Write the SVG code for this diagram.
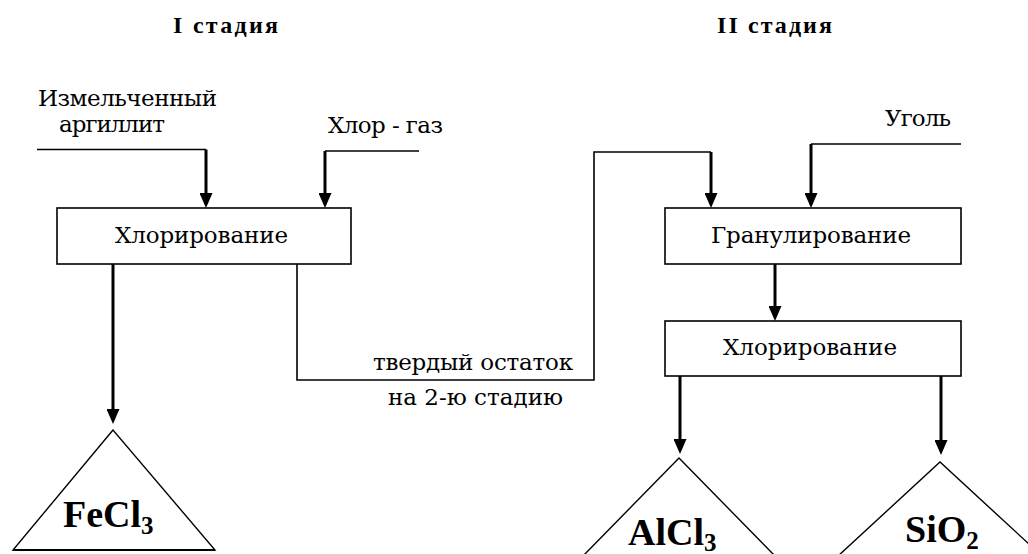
<svg xmlns="http://www.w3.org/2000/svg" width="1028" height="554" viewBox="0 0 1028 554">
<style>
  .bg { fill: #ffffff; }
  .box { fill: #ffffff; stroke: #000000; stroke-width: 1.6; }
  .tri { fill: none; stroke: #000000; stroke-width: 1.4; }
  .thin { fill: none; stroke: #000000; stroke-width: 1.6; }
  .thick { fill: none; stroke: #000000; stroke-width: 3; marker-end: url(#arrow); }
  .lbl { font-family: "DejaVu Serif", "Liberation Serif", serif; font-size: 23px; fill: #000000; }
  .title { font-family: "Liberation Serif", "Times New Roman", serif; font-size: 24px; font-weight: bold; fill: #000000; }
  .chem { font-family: "Liberation Serif", "Times New Roman", serif; font-size: 38px; font-weight: bold; fill: #000000; }
  .sub { font-size: 25px; }
</style>
<defs>
  <marker id="arrow" viewBox="0 0 15 13" refX="11" refY="6.5" markerWidth="15" markerHeight="13" markerUnits="userSpaceOnUse" orient="auto">
    <path d="M0,0 L15,6.5 L0,13 z" fill="#000000"/>
  </marker>
</defs>
<rect class="bg" x="0" y="0" width="1028" height="554"/>

<g id="titles">
  <text class="title" x="173" y="33" textLength="105" lengthAdjust="spacing">I стадия</text>
  <text class="title" x="717" y="33" textLength="115" lengthAdjust="spacing">II стадия</text>
</g>

<g id="connectors">
  <polyline class="thin" points="37,149.5 206,149.5"/>
  <line class="thick" x1="206" y1="149.5" x2="206" y2="204"/>
  <polyline class="thin" points="419,151 325,151"/>
  <line class="thick" x1="325" y1="151" x2="325" y2="204"/>
  <line class="thick" x1="113" y1="264" x2="113" y2="420"/>
  <polyline class="thin" points="297,264 297,380 594,380 594,152 711,152"/>
  <line class="thick" x1="711" y1="152" x2="711" y2="204"/>
  <polyline class="thin" points="961,144 811,144"/>
  <line class="thick" x1="811" y1="144" x2="811" y2="204"/>
  <line class="thick" x1="775" y1="264" x2="775" y2="317"/>
  <line class="thick" x1="680" y1="376" x2="680" y2="450"/>
  <line class="thick" x1="941" y1="376" x2="941" y2="451"/>
</g>

<g id="input-argillite">
  <text class="lbl" x="38" y="106" textLength="179" lengthAdjust="spacing">Измельченный</text>
  <text class="lbl" x="59" y="132" textLength="106" lengthAdjust="spacing">аргиллит</text>
</g>
<g id="input-chlorine">
  <text class="lbl" x="328" y="133" textLength="115" lengthAdjust="spacing">Хлор - газ</text>
</g>
<g id="input-coal">
  <text class="lbl" x="885" y="126" textLength="66" lengthAdjust="spacing">Уголь</text>
</g>

<g id="chlorination-1">
  <rect class="box" x="57" y="208" width="294" height="56"/>
  <text class="lbl" x="115" y="243" textLength="173" lengthAdjust="spacing">Хлорирование</text>
</g>

<g id="residue-label">
  <text class="lbl" x="373" y="370" textLength="200" lengthAdjust="spacing">твердый остаток</text>
  <text class="lbl" x="388" y="405" textLength="175" lengthAdjust="spacing">на 2-ю стадию</text>
</g>

<g id="granulation">
  <rect class="box" x="665" y="208" width="296" height="56"/>
  <text class="lbl" x="711" y="243" textLength="200" lengthAdjust="spacing">Гранулирование</text>
</g>

<g id="chlorination-2">
  <rect class="box" x="665" y="321" width="296" height="55"/>
  <text class="lbl" x="723" y="355" textLength="174" lengthAdjust="spacing">Хлорирование</text>
</g>

<g id="product-fecl3">
  <polygon class="tri" points="113,430 13,550 215,550"/>
  <line x1="13" y1="550" x2="215" y2="550" stroke="#000" stroke-width="2"/>
  <text class="chem" x="63" y="527">FeCl<tspan class="sub" dy="7">3</tspan></text>
</g>

<g id="product-alcl3">
  <polyline class="tri" points="536,604 679,458 822,604"/>
  <text class="chem" x="628" y="545">AlCl<tspan class="sub" dy="6">3</tspan></text>
</g>

<g id="product-sio2">
  <polyline class="tri" points="786,604 940,462 1094,604"/>
  <text class="chem" x="905" y="542">SiO<tspan class="sub" dy="7">2</tspan></text>
</g>
</svg>
